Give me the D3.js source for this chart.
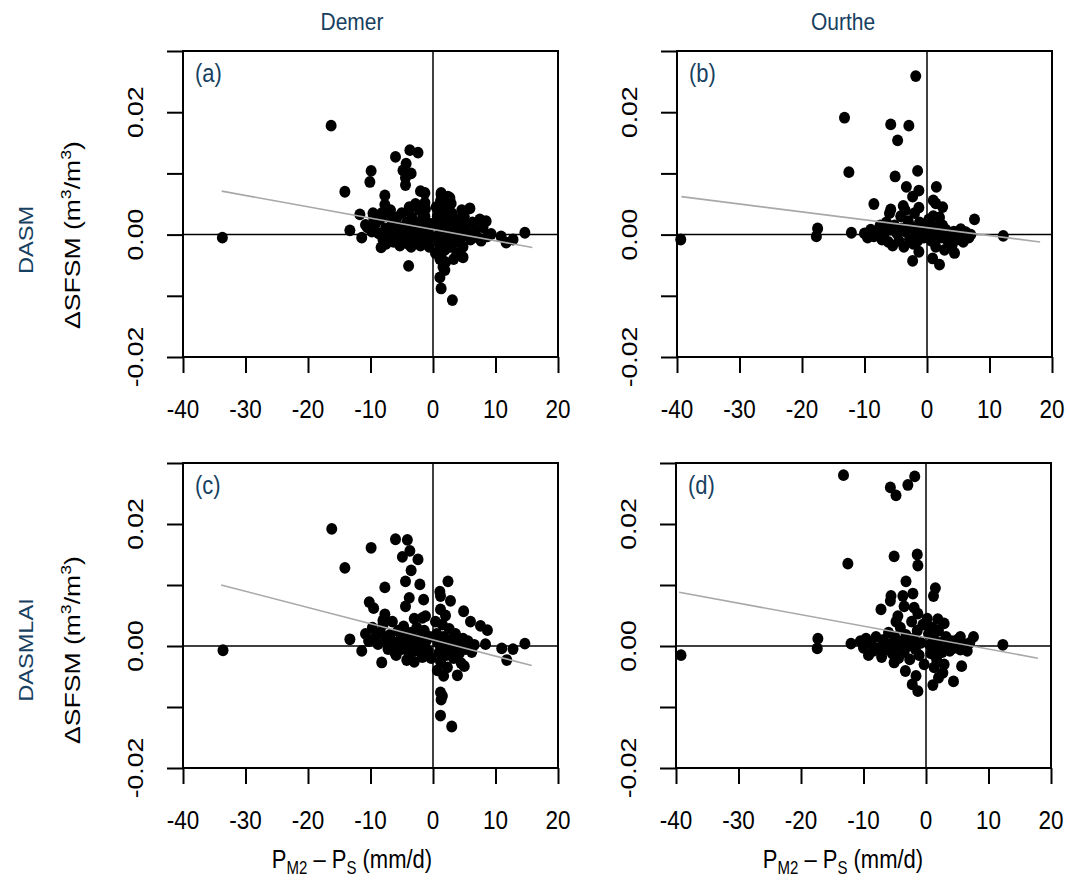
<!DOCTYPE html>
<html>
<head>
<meta charset="utf-8">
<script src="https://cdn.jsdelivr.net/npm/d3@7"></script>
<style>
  body { margin: 0; background: #fff; }
  svg { display: block; font-family: "Liberation Sans", Arial, sans-serif; }
</style>
</head>
<body>
<svg id="chart" width="1069" height="885"></svg>
<script>
// axis ticks
const xTicks = [-40, -30, -20, -10, 0, 10, 20];
const yTicks = [-0.02, -0.01, 0, 0.01, 0.02, 0.03];
const yTickLabels = [-0.02, 0, 0.02];

const columns = ["Demer", "Ourthe"];
const rows = ["DASM", "DASMLAI"];
const panelTags = ["(a)", "(b)", "(c)", "(d)"];

// points: [P_M2 - P_S, ΔSFSM]
const demerDasm = [
  [-33.7, -0.0005], [-16.3, 0.0178], [-14.1, 0.0070], [-13.3, 0.0007], [-11.7, 0.0033], [-11.4, -0.0005],
  [-9.9, 0.0104], [-10.1, 0.0086], [-9.6, 0.0035], [-10.8, 0.0016], [-7.7, 0.0064], [-7.7, 0.0049],
  [-8.3, -0.0021], [-6.0, 0.0127], [-3.7, 0.0138], [-2.4, 0.0134], [-4.3, 0.0116], [-4.8, 0.0105],
  [-3.5, 0.0100], [-4.4, 0.0081], [-4.4, 0.0093], [-2.0, 0.0071], [-1.3, 0.0068], [-1.3, 0.0052],
  [-3.9, 0.0039], [-1.6, 0.0034], [-3.9, -0.0051], [1.3, 0.0068], [2.4, 0.0062], [2.9, 0.0051],
  [5.9, 0.0043], [7.5, 0.0025], [8.5, 0.0022], [14.7, 0.0003], [12.8, -0.0008], [11.7, -0.0013],
  [10.9, -0.0003], [9.3, 0.0001], [7.7, -0.0010], [6.7, 0.0001], [4.8, -0.0037], [1.3, -0.0037],
  [1.6, -0.0053], [1.9, -0.0058], [1.1, -0.0070], [1.3, -0.0088], [3.1, -0.0107],
  [-10.5, 0.0012], [-9.8, 0.0005], [-9.2, 0.0018], [-8.7, 0.0002], [-8.5, 0.0025], [-8.0, -0.0008],
  [-7.6, 0.0010], [-7.2, 0.0030], [-7.0, -0.0003], [-6.6, 0.0015], [-6.3, -0.0012], [-6.0, 0.0005],
  [-5.8, 0.0028], [-5.5, -0.0005], [-5.2, 0.0012], [-5.0, 0.0035], [-4.8, -0.0010], [-4.5, 0.0002],
  [-4.2, 0.0020], [-4.0, -0.0015], [-3.7, 0.0008], [-3.4, 0.0028], [-3.2, -0.0005], [-3.0, 0.0015],
  [-2.7, -0.0012], [-2.5, 0.0004], [-2.2, 0.0040], [-2.0, 0.0022], [-1.8, -0.0008], [-1.5, 0.0010],
  [-1.3, 0.0030], [-1.0, -0.0015], [-0.8, 0.0005], [-0.5, 0.0018], [-0.3, -0.0005], [-6.8, 0.0040],
  [-8.2, 0.0035], [-9.5, 0.0028], [-3.8, 0.0045], [-2.8, 0.0050], [-1.2, 0.0042], [-7.5, -0.0015],
  [-5.3, -0.0018], [-3.5, -0.0020], [-2.0, -0.0018], [-0.6, -0.0020],
  [0.5, 0.0045], [0.7, 0.0030], [0.8, 0.0015], [0.9, 0.0000], [1.0, -0.0015], [1.2, 0.0055],
  [1.4, 0.0038], [1.5, 0.0020], [1.6, 0.0005], [1.8, -0.0010], [1.9, -0.0025], [2.1, 0.0045],
  [2.3, 0.0028], [2.5, 0.0012], [2.6, -0.0003], [2.8, -0.0020], [3.0, 0.0035], [3.2, 0.0018],
  [3.4, 0.0003], [3.6, -0.0012], [3.8, -0.0030], [4.0, 0.0025], [4.3, 0.0010], [4.5, -0.0005],
  [4.8, -0.0020], [5.0, 0.0030], [5.3, 0.0015], [5.6, 0.0000], [6.0, -0.0008], [6.3, 0.0020],
  [6.8, 0.0008], [7.2, -0.0005], [8.0, 0.0012], [8.7, -0.0003], [1.1, -0.0040], [2.0, -0.0045],
  [3.3, -0.0040], [2.7, 0.0060], [0.4, -0.0030], [4.6, 0.0040], [1.3, 0.0065]
];

const ourtheDasm = [
  [-39.4, -0.0008], [-17.5, 0.0010], [-17.7, -0.0003], [-13.2, 0.0191], [-12.5, 0.0102], [-12.1, 0.0003],
  [-8.5, 0.0050], [-5.8, 0.0180], [-2.9, 0.0178], [-4.7, 0.0154], [-1.8, 0.0259], [-1.5, 0.0104],
  [-5.1, 0.0095], [-3.3, 0.0078], [-1.3, 0.0072], [-2.3, 0.0062], [1.5, 0.0078], [1.0, 0.0056],
  [1.4, 0.0051], [-3.8, 0.0047], [-1.3, 0.0044], [-5.8, 0.0041], [7.6, 0.0025], [12.2, -0.0002],
  [5.4, 0.0009], [-2.3, -0.0043], [2.0, -0.0049], [0.9, -0.0039], [-1.3, -0.0028], [4.4, -0.0030],
  [-10.0, 0.0002], [-9.5, -0.0005], [-9.0, 0.0008], [-8.5, -0.0003], [-8.0, 0.0005], [-7.5, 0.0015],
  [-7.2, -0.0008], [-6.8, 0.0003], [-6.5, 0.0020], [-6.2, -0.0012], [-5.8, 0.0008], [-5.5, -0.0018],
  [-5.2, 0.0015], [-4.8, 0.0002], [-4.5, -0.0010], [-4.2, 0.0030], [-4.0, 0.0010], [-3.7, -0.0020],
  [-3.4, 0.0005], [-3.0, 0.0022], [-2.8, -0.0008], [-2.5, 0.0012], [-2.2, -0.0015], [-2.0, 0.0035],
  [-1.7, 0.0003], [-1.5, -0.0010], [-1.2, 0.0020], [-0.8, 0.0008], [-0.5, -0.0005], [-0.3, 0.0015],
  [0.3, 0.0025], [0.5, 0.0005], [0.7, -0.0010], [1.0, 0.0030], [1.2, 0.0012], [1.4, -0.0020],
  [1.7, 0.0002], [2.0, 0.0028], [2.2, -0.0005], [2.5, 0.0015], [2.8, -0.0025], [3.0, 0.0008],
  [3.3, -0.0010], [3.6, 0.0002], [4.0, -0.0018], [4.3, 0.0005], [4.8, -0.0008], [5.2, 0.0003],
  [5.8, -0.0012], [6.2, 0.0004], [6.7, -0.0005], [7.0, 0.0000], [2.5, 0.0045], [-3.5, 0.0040],
  [-6.0, 0.0035]
];

const demerDasmlai = [
  [-33.6, -0.0007], [-16.2, 0.0192], [-14.1, 0.0128], [-13.3, 0.0011], [-11.4, -0.0008], [-9.9, 0.0161],
  [-6.0, 0.0175], [-4.1, 0.0174], [-3.7, 0.0156], [-4.9, 0.0146], [-2.4, 0.0142], [-3.5, 0.0124],
  [-4.4, 0.0106], [-2.1, 0.0101], [-7.7, 0.0096], [-3.8, 0.0079], [-1.5, 0.0076], [-10.2, 0.0072],
  [-9.5, 0.0062], [-4.4, 0.0065], [2.4, 0.0106], [1.1, 0.0089], [1.2, 0.0082], [2.8, 0.0074],
  [4.9, 0.0057], [1.2, 0.0060], [-7.7, 0.0052], [-1.7, 0.0046], [-1.2, 0.0049], [6.0, 0.0040],
  [7.6, 0.0033], [8.7, 0.0026], [14.7, 0.0004], [12.8, -0.0005], [11.8, -0.0023], [11.0, -0.0004],
  [8.4, 0.0003], [6.6, 0.0002], [-8.2, -0.0027], [1.7, -0.0049], [3.9, -0.0048], [5.0, -0.0033],
  [1.2, -0.0076], [1.3, -0.0088], [1.5, -0.0082], [1.2, -0.0114], [3.0, -0.0132], [-3.0, -0.0026],
  [-4.2, -0.0023], [-6.1, -0.0011],
  [-10.8, 0.0020], [-10.3, 0.0008], [-9.7, 0.0030], [-9.2, 0.0015], [-8.8, 0.0003], [-8.4, 0.0022],
  [-8.0, 0.0035], [-7.6, 0.0008], [-7.2, -0.0005], [-6.9, 0.0018], [-6.5, 0.0040], [-6.2, 0.0005],
  [-5.9, -0.0015], [-5.6, 0.0025], [-5.3, 0.0010], [-5.0, -0.0005], [-4.7, 0.0032], [-4.4, 0.0015],
  [-4.1, 0.0000], [-3.8, -0.0012], [-3.5, 0.0022], [-3.2, 0.0008], [-2.9, -0.0008], [-2.6, 0.0030],
  [-2.3, 0.0012], [-2.0, -0.0003], [-1.7, -0.0018], [-1.4, 0.0025], [-1.1, 0.0008], [-0.8, -0.0008],
  [-0.5, 0.0015], [-0.3, -0.0020], [0.4, 0.0040], [0.6, 0.0020], [0.8, 0.0005], [1.0, -0.0010],
  [1.2, -0.0025], [1.5, 0.0035], [1.7, 0.0015], [1.9, 0.0000], [2.1, -0.0015], [2.3, -0.0035],
  [2.6, 0.0028], [2.8, 0.0010], [3.0, -0.0005], [3.3, -0.0020], [3.6, 0.0020], [3.9, 0.0003],
  [4.2, -0.0012], [4.5, -0.0028], [4.8, 0.0012], [5.2, -0.0005], [5.6, 0.0008], [6.2, -0.0010],
  [-3.0, 0.0045], [-8.0, 0.0042], [0.7, -0.0040], [2.0, 0.0050]
];

const ourtheDasmlai = [
  [-39.2, -0.0015], [-17.3, 0.0012], [-17.4, -0.0004], [-13.2, 0.0280], [-12.5, 0.0135], [-12.0, 0.0004],
  [-5.7, 0.0260], [-4.8, 0.0247], [-2.9, 0.0264], [-1.8, 0.0278], [-5.1, 0.0147], [-1.4, 0.0150],
  [-1.3, 0.0132], [-3.2, 0.0106], [1.5, 0.0095], [1.2, 0.0082], [-5.6, 0.0082], [-5.7, 0.0074],
  [-3.7, 0.0082], [-2.1, 0.0086], [-7.2, 0.0060], [-3.5, 0.0065], [-1.9, 0.0063], [-1.3, 0.0053],
  [-4.5, 0.0049], [7.6, 0.0015], [12.3, 0.0002], [5.5, 0.0015], [2.9, 0.0037], [1.9, 0.0044],
  [-5.1, -0.0027], [-3.3, -0.0041], [-2.2, -0.0063], [-1.3, -0.0074], [1.1, -0.0064], [4.4, -0.0058],
  [5.7, -0.0033], [2.7, -0.0044], [2.0, -0.0052], [-1.6, -0.0049],
  [-10.5, 0.0008], [-10.0, -0.0003], [-9.6, 0.0012], [-9.2, -0.0015], [-8.8, 0.0005], [-8.4, -0.0008],
  [-8.0, 0.0015], [-7.5, -0.0003], [-7.1, -0.0018], [-6.8, 0.0010], [-6.4, -0.0005], [-6.0, 0.0022],
  [-5.7, 0.0003], [-5.4, -0.0012], [-5.0, 0.0015], [-4.7, -0.0002], [-4.4, -0.0020], [-4.1, 0.0030],
  [-3.8, 0.0008], [-3.5, -0.0010], [-3.2, 0.0018], [-2.9, 0.0000], [-2.6, -0.0022], [-2.3, 0.0040],
  [-2.0, 0.0012], [-1.7, -0.0005], [-1.4, 0.0025], [-1.1, -0.0015], [-0.8, 0.0005], [-0.5, 0.0035],
  [-0.3, -0.0030], [0.4, 0.0020], [0.6, 0.0002], [0.8, -0.0012], [1.0, 0.0030], [1.3, 0.0010],
  [1.5, -0.0005], [1.7, -0.0022], [2.0, 0.0025], [2.3, 0.0005], [2.6, -0.0010], [2.9, -0.0030],
  [3.2, 0.0015], [3.5, 0.0000], [3.8, -0.0008], [4.1, 0.0008], [4.5, -0.0003], [5.0, 0.0010],
  [5.5, -0.0006], [6.0, 0.0003], [6.6, -0.0008], [7.0, 0.0005], [0.2, 0.0045], [-4.8, 0.0040],
  [1.3, -0.0035]
];

// grey fit lines, end points: [x0, y0, x1, y1]
const fitDemerDasm = [-33.8, 0.0071, 15.9, -0.0021];
const fitOurtheDasm = [-39.3, 0.0062, 18.1, -0.0012];
const fitDemerDasmlai = [-33.9, 0.0100, 15.8, -0.0032];
const fitOurtheDasmlai = [-39.5, 0.0088, 17.9, -0.0020];

const labelBlue = "#173f5f";
const stretch = 1.18; // the source figure is a bit taller than wide
const svg = d3.select("#chart");

// horizontal text, stretched vertically
function hText(parent, x, y, size, fill, anchor) {
  return parent.append("text")
    .attr("transform", `translate(${x},${y}) scale(1,${stretch})`)
    .attr("text-anchor", anchor).attr("font-size", size).attr("fill", fill);
}
// vertical text (reads bottom to top), stretched along its length
function vText(parent, x, y, size, fill) {
  return parent.append("text")
    .attr("transform", `translate(${x},${y}) rotate(-90) scale(${stretch},1)`)
    .attr("text-anchor", "middle").attr("font-size", size).attr("fill", fill);
}

const panels = [
  { pts: demerDasm, fit: fitDemerDasm, tag: panelTags[0], x0: 183, x1: 558, y0: 51, y1: 357 },
  { pts: ourtheDasm, fit: fitOurtheDasm, tag: panelTags[1], x0: 677, x1: 1052, y0: 51, y1: 357 },
  { pts: demerDasmlai, fit: fitDemerDasmlai, tag: panelTags[2], x0: 183, x1: 558, y0: 463, y1: 768 },
  { pts: ourtheDasmlai, fit: fitOurtheDasmlai, tag: panelTags[3], x0: 676, x1: 1051, y0: 463, y1: 768 }
];

panels.forEach((p) => {
  const x = d3.scaleLinear().domain([-40, 20]).range([p.x0, p.x1]);
  const y = d3.scaleLinear().domain([-0.02, 0.03]).range([p.y1, p.y0]);
  const g = svg.append("g");

  // x axis ticks
  const xa = g.append("g")
    .attr("transform", `translate(0,${p.y1})`)
    .call(d3.axisBottom(x).tickValues(xTicks).tickSize(16).tickFormat(""));
  xa.select(".domain").remove();
  xa.selectAll("line").attr("stroke", "#000").attr("stroke-width", 2);
  xTicks.forEach(t => {
    hText(g, x(t), p.y1 + 61, 22.5, "#000", "middle").text(String(t));
  });

  // y axis ticks
  const ya = g.append("g")
    .attr("transform", `translate(${p.x0},0)`)
    .call(d3.axisLeft(y).tickValues(yTicks).tickSize(16).tickFormat(""));
  ya.select(".domain").remove();
  ya.selectAll("line").attr("stroke", "#000").attr("stroke-width", 2);
  yTickLabels.forEach(t => {
    vText(g, p.x0 - 40, y(t), 22.5, "#000").text(t.toFixed(2));
  });

  // zero lines
  g.append("line").attr("x1", p.x0).attr("x2", p.x1).attr("y1", y(0)).attr("y2", y(0))
    .attr("stroke", "#000").attr("stroke-width", 1.5);
  g.append("line").attr("x1", x(0)).attr("x2", x(0)).attr("y1", p.y0).attr("y2", p.y1)
    .attr("stroke", "#000").attr("stroke-width", 1.5);

  // points
  g.append("g").selectAll("ellipse").data(p.pts).join("ellipse")
    .attr("cx", d => x(d[0])).attr("cy", d => y(d[1]))
    .attr("rx", 5.5).attr("ry", 5.9).attr("fill", "#000");

  // fit line
  g.append("line")
    .attr("x1", x(p.fit[0])).attr("y1", y(p.fit[1]))
    .attr("x2", x(p.fit[2])).attr("y2", y(p.fit[3]))
    .attr("stroke", "#a8a8a8").attr("stroke-width", 1.6);

  // box
  g.append("rect").attr("x", p.x0).attr("y", p.y0)
    .attr("width", p.x1 - p.x0).attr("height", p.y1 - p.y0)
    .attr("fill", "none").attr("stroke", "#000").attr("stroke-width", 2);

  hText(g, p.x0 + 12, p.y0 + 31, 22, labelBlue, "start").text(p.tag);
});

// column titles and x axis titles
[352, 843].forEach((cx, i) => {
  hText(svg, cx, 30, 21, labelBlue, "middle").text(columns[i]);

  const t = hText(svg, cx, 868, 22, "#000", "middle");
  t.append("tspan").text("P");
  t.append("tspan").attr("font-size", 15).attr("dy", 5).text("M2");
  t.append("tspan").attr("dy", -5).text(" \u2013 P");
  t.append("tspan").attr("font-size", 15).attr("dy", 5).text("S");
  t.append("tspan").attr("dy", -5).text(" (mm/d)");
});

// row titles and y axis titles
[240, 650].forEach((cy, i) => {
  vText(svg, 33, cy, 20, labelBlue).text(rows[i]);
});
[235, 650].forEach((cy) => {
  const t = vText(svg, 80, cy, 22.5, "#000");
  t.append("tspan").text("\u0394SFSM (m");
  t.append("tspan").attr("font-size", 15).attr("dy", -9).text("3");
  t.append("tspan").attr("dy", 9).text("/m");
  t.append("tspan").attr("font-size", 15).attr("dy", -9).text("3");
  t.append("tspan").attr("dy", 9).text(")");
});
</script>
</body>
</html>
